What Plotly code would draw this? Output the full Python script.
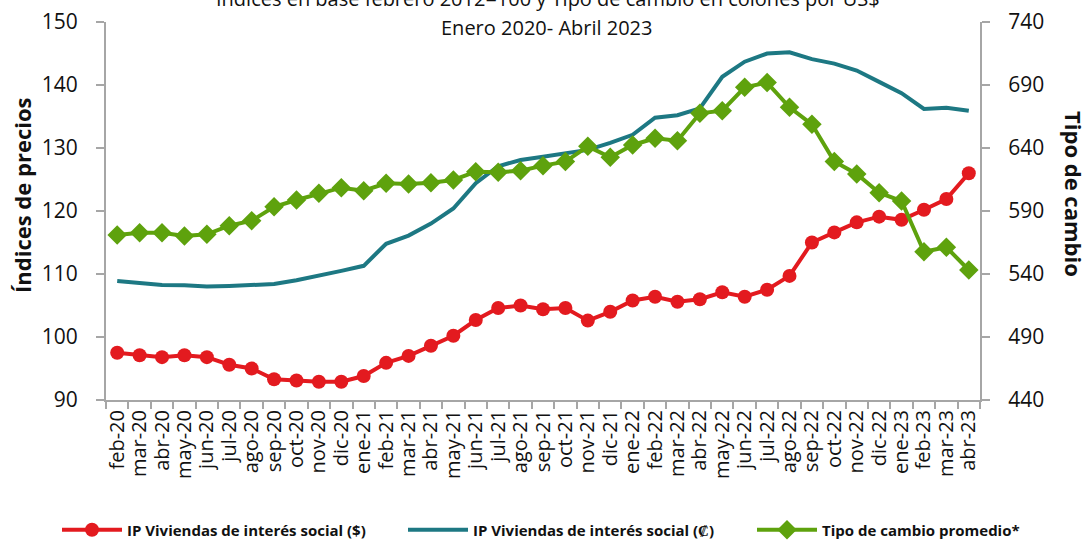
import plotly.graph_objects as go

months = ["feb-20", "mar-20", "abr-20", "may-20", "jun-20", "jul-20", "ago-20", "sep-20", "oct-20", "nov-20", "dic-20",
          "ene-21", "feb-21", "mar-21", "abr-21", "may-21", "jun-21", "jul-21", "ago-21", "sep-21", "oct-21", "nov-21", "dic-21",
          "ene-22", "feb-22", "mar-22", "abr-22", "may-22", "jun-22", "jul-22", "ago-22", "sep-22", "oct-22", "nov-22", "dic-22",
          "ene-23", "feb-23", "mar-23", "abr-23"]

ip_dolares = [97.5, 97.1, 96.8, 97.1, 96.8, 95.6, 95.0, 93.3, 93.1, 92.9, 92.9,
              93.8, 95.9, 97.0, 98.6, 100.2, 102.7, 104.6, 105.0, 104.4, 104.6, 102.6, 104.0,
              105.8, 106.4, 105.6, 106.0, 107.1, 106.4, 107.5, 109.7, 115.0, 116.6, 118.2, 119.1,
              118.6, 120.2, 121.9, 126.0]

ip_colones = [108.9, 108.6, 108.25, 108.2, 108.0, 108.1, 108.2, 108.4, 109.0, 109.7, 110.5,
              111.3, 114.8, 116.1, 118.0, 120.4, 124.4, 127.1, 128.1, 128.6, 129.2, 129.7, 130.8,
              132.1, 134.8, 135.2, 136.3, 141.3, 143.7, 145.0, 145.2, 144.1, 143.4, 142.3, 140.5,
              138.7, 136.2, 136.4, 135.9]

tipo_cambio = [571.0, 572.8, 572.8, 570.2, 571.5, 578.3, 582.3, 593.4, 598.7, 604.0, 608.5,
               606.1, 612.0, 611.4, 612.5, 614.6, 621.2, 620.7, 622.0, 626.0, 629.2, 641.3, 632.6,
               642.4, 647.7, 645.8, 667.5, 669.6, 688.2, 691.9, 672.3, 658.8, 629.2, 619.4, 604.5,
               597.9, 557.7, 561.2, 543.2]

left_ticks = [90, 100, 110, 120, 130, 140, 150]
right_ticks = [440, 490, 540, 590, 640, 690, 740]

RED = "#E31A1F"
TEAL = "#1D7883"
GREEN = "#5EA20D"
AXIS = "#A6A6A6"
FONT = "Open Sans"
TXT = "#111111"

W, H = 1085, 542
PW, PH = 874, 378
L, T = 106, 22
R, B = W - L - PW, H - T - PH


def px_x(x):
    return (x - L) / PW


def px_y(y):
    return (H - B - y) / PH


fig = go.Figure()
fig.add_trace(go.Scatter(x=months, y=ip_dolares, name="IP Viviendas de interés social ($)",
                         mode="lines+markers", line=dict(color=RED, width=4),
                         marker=dict(symbol="circle", size=14, color=RED), legend="legend"))
fig.add_trace(go.Scatter(x=months, y=ip_colones, name="IP Viviendas de interés social (₡)",
                         mode="lines", line=dict(color=TEAL, width=4), legend="legend2"))
fig.add_trace(go.Scatter(x=months, y=tipo_cambio, name="Tipo de cambio promedio*", yaxis="y2",
                         mode="lines+markers", line=dict(color=GREEN, width=4),
                         marker=dict(symbol="diamond", size=15, color=GREEN), legend="legend3"))

legend_common = dict(orientation="h", xanchor="left", yanchor="middle", y=px_y(530),
                     font=dict(size=15, family=FONT, color=TXT, weight="bold"), itemwidth=60,
                     bgcolor="rgba(0,0,0,0)")

fig.update_layout(
    width=W, height=H,
    margin=dict(l=L, r=R, t=T, b=B, autoexpand=False),
    plot_bgcolor="white", paper_bgcolor="white",
    font=dict(family=FONT, color=TXT),
    xaxis=dict(type="category", range=[-0.5, 38.5], automargin=False, showgrid=False, showline=True,
               linecolor=AXIS, linewidth=2, tickmode="linear", tick0=0, dtick=1,
               ticks="outside", tickson="boundaries", ticklen=7, tickcolor=AXIS, tickwidth=2,
               tickangle=-90, tickfont=dict(size=20, family=FONT, color=TXT)),
    yaxis=dict(range=[left_ticks[0], left_ticks[-1]], tickmode="array", tickvals=left_ticks,
               automargin=False, showgrid=False, zeroline=False, ticklabeloverflow="allow",
               showline=True, linecolor=AXIS, linewidth=2, ticks="outside", ticklen=8, tickcolor=AXIS,
               tickwidth=2, ticklabelstandoff=14, tickfont=dict(size=21, family=FONT, color=TXT)),
    yaxis2=dict(range=[right_ticks[0], right_ticks[-1]], tickmode="array", tickvals=right_ticks,
                overlaying="y", side="right", automargin=False, ticklabeloverflow="allow",
                showgrid=False, zeroline=False, showline=True, linecolor=AXIS, linewidth=2, ticks="outside",
                ticklen=8, tickcolor=AXIS, tickwidth=2, ticklabelstandoff=14,
                tickfont=dict(size=21, family=FONT, color=TXT)),
    legend=dict(x=px_x(57), **legend_common),
    legend2=dict(x=px_x(403), **legend_common),
    legend3=dict(x=px_x(752), **legend_common),
    showlegend=True,
)

fig.add_annotation(text="Índices en base febrero 2012=100 y Tipo de cambio en colones por US$",
                   xref="paper", yref="paper", x=px_x(548), y=px_y(-2), xanchor="center", yanchor="middle",
                   showarrow=False, font=dict(size=20, family=FONT, color=TXT))
fig.add_annotation(text="Enero 2020- Abril 2023",
                   xref="paper", yref="paper", x=px_x(546), y=px_y(27), xanchor="center", yanchor="middle",
                   showarrow=False, font=dict(size=20, family=FONT, color=TXT))
fig.add_annotation(text="Índices de precios", textangle=-90, xref="paper", yref="paper",
                   x=px_x(22), y=px_y(195), xanchor="center", yanchor="middle",
                   showarrow=False, font=dict(size=22, family=FONT, color=TXT, weight="bold"))
fig.add_annotation(text="Tipo de cambio", textangle=90, xref="paper", yref="paper",
                   x=px_x(1074), y=px_y(194), xanchor="center", yanchor="middle",
                   showarrow=False, font=dict(size=22, family=FONT, color=TXT, weight="bold"))

fig.write_html("out.html", config={"displayModeBar": False},
               post_script="document.body.style.margin='0';document.body.style.overflow='hidden';")
